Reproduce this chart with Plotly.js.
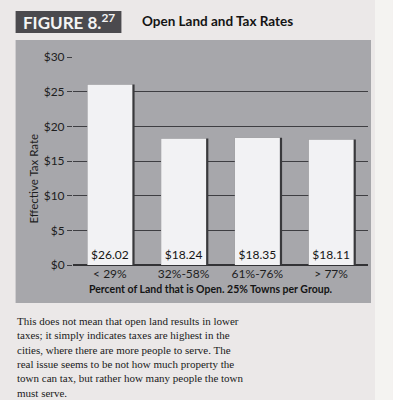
<!DOCTYPE html>
<html>
<head>
<meta charset="utf-8">
<script src="https://cdn.plot.ly/plotly-3.0.1.min.js"></script>
<style>html,body{margin:0;padding:0;background:#ebe8e8;}#chart{width:393px;height:400px;}</style>
</head>
<body>
<div id="chart"></div>
<script>
const categories = ["< 29%", "32%-58%", "61%-76%", "> 77%"];
const taxRates = [26.02, 18.24, 18.35, 18.11];
const yTickVals = [0, 5, 10, 15, 20, 25, 30];
const yTickText = ["$0", "$5", "$10", "$15", "$20", "$25", "$30"];
const paragraphLines = [
  "This does not mean that open land results in lower",
  "taxes; it simply indicates taxes are highest in the",
  "cities, where there are more people to serve. The",
  "real issue seems to be not how much property the",
  "town can tax, but rather how many people the town",
  "must serve."
];

const L = 72.5, R = 368, T = 57, B = 265;
const px = x => (x - L) / (R - L);
const py = y => (B - y) / (B - T);

const shadow = {
  type: 'bar', x: categories, y: taxRates,
  width: 0.64, offset: -0.305,
  marker: {color: '#39393c'},
  hoverinfo: 'skip', showlegend: false
};
const bars = {
  type: 'bar', x: categories, y: taxRates,
  width: 0.61, offset: -0.305,
  marker: {color: '#f2f2f4', line: {width: 0}},
  text: taxRates.map(v => '$' + v.toFixed(2)),
  textposition: 'inside', insidetextanchor: 'start',
  textfont: {family: 'Lato', size: 12, color: '#151515'},
  constraintext: 'none',
  showlegend: false
};

const annotations = [
  {xref: 'paper', yref: 'paper', x: px(68), y: py(22), xanchor: 'center', yanchor: 'middle',
   text: 'FIGURE 8.<sup>27</sup>', showarrow: false,
   font: {family: 'Lato', size: 17, color: '#f4f4f4', weight: 'bold'}},
  {xref: 'paper', yref: 'paper', x: px(140), y: py(21), xanchor: 'left', yanchor: 'middle',
   text: 'Open Land and Tax Rates', showarrow: false,
   font: {family: 'Lato', size: 13.5, color: '#141414', weight: 'bold'}},
  {xref: 'paper', yref: 'paper', x: px(32), y: py(179), xanchor: 'center', yanchor: 'middle',
   text: 'Effective Tax Rate', textangle: -90, showarrow: false,
   font: {family: 'Lato', size: 11.5, color: '#1e1e1e'}},
  {xref: 'paper', yref: 'paper', x: px(211), y: py(289), xanchor: 'center', yanchor: 'middle',
   text: 'Percent of Land that is Open. 25% Towns per Group.', showarrow: false,
   font: {family: 'Lato', size: 10.5, color: '#141414', weight: 'bold'}}
];
paragraphLines.forEach((line, i) => {
  annotations.push({xref: 'paper', yref: 'paper', x: px(14), y: py(321 + i * 14.3),
    xanchor: 'left', yanchor: 'middle', text: line, align: 'left', showarrow: false,
    font: {family: 'Liberation Serif', size: 11, color: '#1a1a1a'}});
});

const layout = {
  width: 393, height: 400,
  margin: {l: L, r: 393 - R, t: T, b: 400 - B},
  paper_bgcolor: '#ebe8e8',
  plot_bgcolor: 'rgba(0,0,0,0)',
  barmode: 'overlay',
  font: {family: 'Lato', color: '#1e1e1e'},
  xaxis: {
    range: [-0.5, 3.5], showgrid: false, zeroline: false, showline: false,
    ticks: '', tickfont: {family: 'Lato', size: 12, color: '#1e1e1e'},
    fixedrange: true
  },
  yaxis: {
    range: [0, 30], tickvals: yTickVals, ticktext: yTickText,
    showgrid: true, gridcolor: '#3e3e42', gridwidth: 1,
    zeroline: true, zerolinecolor: '#333336', zerolinewidth: 1.5,
    ticks: 'outside', ticklen: 5, tickcolor: '#3e3e42', tickwidth: 1,
    tickfont: {family: 'Lato', size: 12, color: '#1e1e1e'},
    showline: false, fixedrange: true
  },
  shapes: [
    {type: 'rect', xref: 'paper', yref: 'paper', x0: px(375), x1: px(393), y0: py(400), y1: py(0),
     fillcolor: '#f4f3f1', line: {width: 0}, layer: 'below'},
    {type: 'rect', xref: 'paper', yref: 'paper', x0: px(15), x1: px(371), y0: py(303), y1: py(40),
     fillcolor: '#a7a7ab', line: {width: 0}, layer: 'below'},
    {type: 'rect', xref: 'paper', yref: 'paper', x0: px(15), x1: px(121), y0: py(33), y1: py(11),
     fillcolor: '#4b4a4e', line: {width: 0}, layer: 'below'}
  ],
  annotations: annotations
};

Plotly.newPlot('chart', [shadow, bars], layout, {displayModeBar: false, staticPlot: true});
</script>
</body>
</html>
